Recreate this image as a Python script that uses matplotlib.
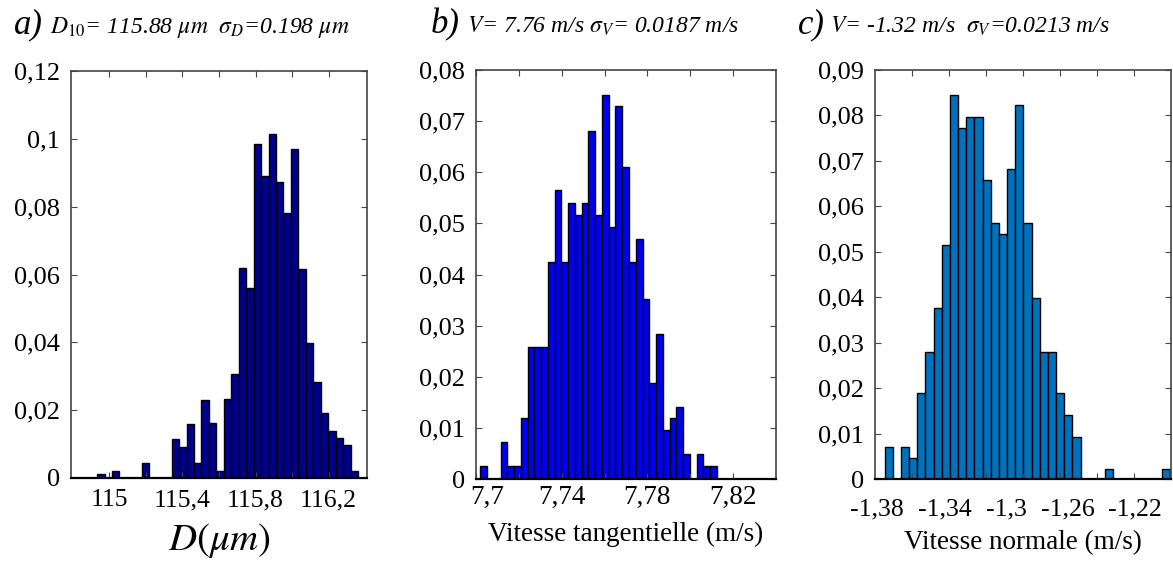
import numpy as np
import matplotlib
matplotlib.use("Agg")
import matplotlib.pyplot as plt
from matplotlib.ticker import FuncFormatter, MultipleLocator, FixedLocator
from matplotlib.transforms import ScaledTranslation

plt.rcParams['font.family'] = ['Liberation Serif', 'DejaVu Serif']
plt.rcParams['mathtext.fontset'] = 'stix'

# a) droplet diameter histogram (35 bins)
d_start = 114.953
d_width = 0.0408
d_freq = [0.0012, 0, 0.0022, 0, 0, 0, 0.0045, 0, 0, 0,
          0.0114, 0.0092, 0.0159, 0.0045, 0.023, 0.0163, 0.0022, 0.0234, 0.0307, 0.062,
          0.056, 0.0986, 0.0891, 0.1015, 0.0873, 0.0782, 0.0969, 0.0617, 0.0397, 0.0282,
          0.0191, 0.014, 0.0118, 0.0096, 0.0022]

# b) tangential velocity histogram
vt_start = 7.70357
vt_width = 0.003155
vt_freq = [0.0025, 0, 0, 0.0072, 0.0025, 0.0025, 0.0119, 0.0259, 0.0259, 0.0259,
           0.0424, 0.0565, 0.0424, 0.054, 0.0517, 0.054, 0.0681, 0.0517, 0.0752, 0.0493,
           0.0729, 0.0611, 0.0424, 0.047, 0.0353, 0.0188, 0.0283, 0.0095, 0.0119, 0.0141,
           0.0048, 0, 0.0048, 0.0025, 0.0025]

# c) normal velocity histogram
vn_start = -1.3726
vn_width = 0.004414
vn_freq = [0.0070, 0, 0.0070, 0.0047, 0.0189, 0.028, 0.0376, 0.0515, 0.0845, 0.0773,
           0.0797, 0.0797, 0.0657, 0.0563, 0.054, 0.0682, 0.0822, 0.0563, 0.0399, 0.028,
           0.028, 0.0189, 0.0141, 0.0092, 0, 0, 0, 0.0023, 0, 0,
           0, 0, 0, 0, 0.0023]

d_ticklabels = ['115', '115,4', '115,8', '116,2']
vt_ticklabels = ['7,7', '7,74', '7,78', '7,82']
vn_ticklabels = ['-1,38', '-1,34', '-1,3', '-1,26', '-1,22']

comma = FuncFormatter(lambda v, p: ('%g' % round(v, 4)).replace('.', ','))

W, H = 1173, 567
fig = plt.figure(figsize=(W / 100, H / 100), dpi=100)

def box(l, r, t, b):
    return [l / W, 1 - b / H, (r - l) / W, (b - t) / H]

ax1 = fig.add_axes(box(71, 367, 71, 478))
ax2 = fig.add_axes(box(476, 776, 70, 479))
ax3 = fig.add_axes(box(875, 1171, 70, 479))

def hist(ax, start, width, freq, color):
    x = start + np.arange(len(freq)) * width
    ax.bar(x, freq, width=width, color=color, edgecolor='black', linewidth=1.0)

def style(ax, xpad, xsize):
    for s in ['top', 'right', 'left']:
        ax.spines[s].set_color('#444444')
        ax.spines[s].set_linewidth(1.2)
    ax.spines['bottom'].set_color('black')
    ax.spines['bottom'].set_linewidth(1.6)
    ax.tick_params(which='both', direction='in', top=True, right=True, length=4,
                   width=0.8, color='#444444')
    ax.tick_params(axis='y', labelsize=19, pad=8)
    ax.tick_params(axis='x', labelsize=xsize, pad=xpad)
    ax.yaxis.set_major_formatter(comma)

hist(ax1, d_start, d_width, d_freq, '#00008C')
ax1.set_xlim(114.79, 116.41)
ax1.set_ylim(0, 0.12)
ax1.yaxis.set_major_locator(MultipleLocator(0.02))
ax1.set_xticks([115, 115.4, 115.8, 116.2])
ax1.set_xticklabels(d_ticklabels)
ax1.xaxis.set_minor_locator(FixedLocator([115.2, 115.6, 116.0]))
style(ax1, 8, 18.5)

hist(ax2, vt_start, vt_width, vt_freq, '#0000F0')
ax2.set_xlim(7.70, 7.84)
ax2.set_ylim(0, 0.08)
ax2.yaxis.set_major_locator(MultipleLocator(0.01))
ax2.set_xticks([7.70, 7.74, 7.78, 7.82])
ax2.set_xticklabels(vt_ticklabels)
ax2.xaxis.set_minor_locator(FixedLocator([7.72, 7.76, 7.80]))
style(ax2, 4, 19.5)
# first label sits a little to the right of the corner, clear of the "0"
first = ax2.xaxis.get_major_ticks()[0].label1
first.set_transform(first.get_transform() + ScaledTranslation(0.11, 0, fig.dpi_scale_trans))

hist(ax3, vn_start, vn_width, vn_freq, '#0072BD')
ax3.set_xlim(-1.38, -1.22)
ax3.set_ylim(0, 0.09)
ax3.yaxis.set_major_locator(MultipleLocator(0.01))
# printed labels are spread over the axis, tick marks every 0.02
ax3.set_xticks([-1.379, -1.342, -1.309, -1.276, -1.2395])
ax3.set_xticklabels(vn_ticklabels)
ax3.xaxis.set_minor_locator(FixedLocator(np.arange(-1.36, -1.225, 0.02)))
style(ax3, 14, 18.5)
ax3.tick_params(axis='x', which='major', length=0)

ax1.set_xlabel(r'$D\left(\mu m\right)$', fontsize=28, labelpad=7)
ax2.set_xlabel('Vitesse tangentielle (m/s)', fontsize=19.5, labelpad=9)
ax3.set_xlabel('Vitesse normale (m/s)', fontsize=19.5, labelpad=7)

def title(x_letter, x_text, letter, text):
    y = 1 - 33 / H
    fig.text(x_letter / W, y, letter, fontsize=25, style='italic', va='baseline')
    fig.text(x_text / W, y, text, fontsize=17, style='italic', va='baseline')

title(14, 50, 'a)', r'$D_{10}$= 115.88 $\mu m$  $\sigma_D$=0.198 $\mu m$')
title(431, 467, 'b)', r'$V$= 7.76 m/s $\sigma_V$= 0.0187 m/s')
title(798, 830, 'c)', r'$V$= -1.32 m/s  $\sigma_V$=0.0213 m/s')

fig.savefig('out.png', dpi=100)
